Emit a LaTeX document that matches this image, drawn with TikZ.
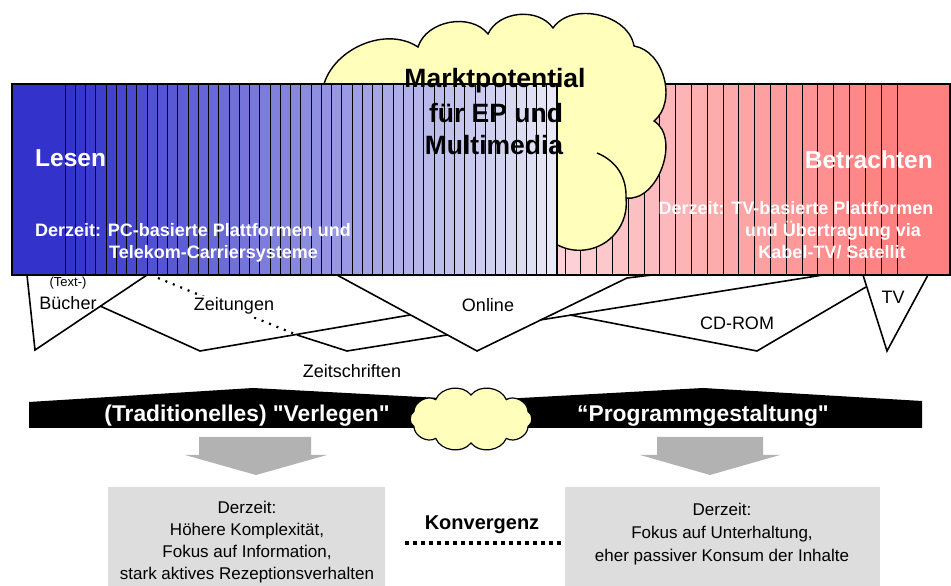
\documentclass[tikz,border=0pt]{standalone}
\usepackage{fontspec}
\setmainfont{Liberation Sans}[Ligatures=TeXOff]
\begin{document}
\begin{tikzpicture}[x=1pt,y=1pt,
  bar/.style={draw=black, line width=1pt},
  frame/.style={draw=black, line width=1.6pt},
  seg/.style={draw=black, line width=1.6pt, line join=miter},
  cloudfill/.style={fill=cloudy, draw=black, line width=1.4pt},
  whitetxt/.style={text=white, font=\bfseries\fontsize{18}{21}\selectfont, inner sep=0pt, anchor=base},
  bigwhite/.style={text=white, font=\bfseries\fontsize{24.5}{28}\selectfont, inner sep=0pt, anchor=base},
  lbl/.style={font=\fontsize{18}{21}\selectfont, inner sep=0pt, anchor=base},
  bandtxt/.style={text=white, font=\bfseries\fontsize{22.8}{26}\selectfont, inner sep=0pt, anchor=base},
  boxtxt/.style={font=\fontsize{17}{20}\selectfont, inner sep=0pt, anchor=base},
  grayarrow/.style={fill=arrowgray, draw=none},
  graybox/.style={fill=boxgray, draw=none}]
\definecolor{cloudy}{RGB}{255,255,187}
\definecolor{arrowgray}{RGB}{178,178,178}
\definecolor{boxgray}{RGB}{221,221,221}
\definecolor{readblue}{RGB}{51,51,204}
\definecolor{watchred}{RGB}{255,128,128}
\definecolor{palepink}{RGB}{252,210,214}
\useasboundingbox (0,0) rectangle (951,586);

% ---- right half of the band: "Betrachten" (red stripes, behind the cloud)
\fill[palepink, bar] (557,311) rectangle (565,502);
\foreach \k in {0,...,20}{
  \pgfmathsetmacro{\xa}{565+\k*15.81}
  \pgfmathsetmacro{\xb}{\xa+15.81}
  \pgfmathtruncatemacro{\rr}{252+3*\k/20}
  \pgfmathtruncatemacro{\gg}{208-80*\k/20}
  \pgfmathtruncatemacro{\bb}{212-84*\k/20}
  \definecolor{stripe}{RGB}{\rr,\gg,\bb}
  \fill[stripe, bar] (\xa,311) rectangle (\xb,502);
}
\fill[watchred, bar] (897,311) rectangle (950,502);
\draw[frame] (557,311) rectangle (950,502);

% ---- big cloud
\coordinate (c0) at (322,491);
\coordinate (c1) at (418,539);
\coordinate (c2) at (488,552);
\coordinate (c3) at (553,558);
\coordinate (c4) at (634,540);
\coordinate (c5) at (654,465);
\coordinate (c6) at (626,388);
\path[cloudfill] (c0) to[bend left=60] (c1) to[bend left=62] (c2)
  to[bend left=60] (c3) to[bend left=68] (c4) to[bend left=66] (c5)
  to[bend left=78] (c6) arc[start angle=6.5, end angle=-150, radius=47]
  -- cycle;
\draw[black, line width=1.4pt] (c6) to[bend right=35] (597,433);

% ---- left half of the band: "Lesen" (blue stripes, over the cloud)
\fill[readblue, bar] (12,311) rectangle (65,502);
\foreach \i in {0,...,47}{
  \pgfmathsetmacro{\xa}{65+\i*10.25}
  \pgfmathsetmacro{\xb}{\xa+10.25}
  \pgfmathtruncatemacro{\rr}{51+181*\i/47}
  \pgfmathtruncatemacro{\bb}{204+42*\i/47}
  \definecolor{stripe}{RGB}{\rr,\rr,\bb}
  \fill[stripe, bar] (\xa,311) rectangle (\xb,502);
}
\draw[frame] (12,311) rectangle (557,502);

% ---- texts on the band
\node[font=\bfseries\fontsize{26.5}{30}\selectfont, inner sep=0pt, anchor=base] (mp1) at (495,498) {Marktpotential};
\node[font=\bfseries\fontsize{26.5}{30}\selectfont, inner sep=0pt, anchor=base] (mp2) at (496,463) {für EP und};
\node[font=\bfseries\fontsize{26.5}{30}\selectfont, inner sep=0pt, anchor=base] (mp3) at (494,431) {Multimedia};

\node[bigwhite, anchor=base west] (lesen) at (35,419) {Lesen};
\node[whitetxt, anchor=base west] (pc1) at (35,349) {Derzeit: PC-basierte Plattformen und};
\node[whitetxt, anchor=base west] (pc2) at (109,327) {Telekom-Carriersysteme};

\node[bigwhite, anchor=base east] (betr) at (933,417) {Betrachten};
\node[whitetxt] (tv1) at (796,371) {Derzeit: TV-basierte Plattformen};
\node[whitetxt] (tv2) at (833,349) {und Übertragung via};
\node[whitetxt] (tv3) at (832,327) {Kabel-TV/ Satellit};

% ---- media segments below the band
\coordinate (bk) at (100,280);
\coordinate (zs) at (297,251);
\coordinate (onl) at (410,271);
\coordinate (onr) at (447,251);
\coordinate (cdl) at (540,266);
\coordinate (cdm) at (570,271);
\coordinate (tvl) at (866,299);
\draw[seg] (27,311) -- (35,236) -- (147,311);
\draw[seg] (bk) -- (200,235) -- (onl);
\draw[seg] (zs) -- (347,235) -- (onr);
\draw[seg] (337,311) -- (477,235) -- (627,308) -- (652,311);
\draw[seg] (cdl) -- (823,311);
\draw[seg] (cdm) -- (757,235) -- (tvl);
\draw[seg] (863,311) -- (887,235) -- (928,311);
\draw[black, line width=2.2pt, dash pattern=on 2pt off 6pt] (158,308) -- (zs);

\node[font=\fontsize{13}{15}\selectfont, inner sep=0pt, anchor=base] (textm) at (68,299) {(Text-)};
\node[lbl] (buch) at (68,276) {Bücher};
\node[lbl, fill=white, inner sep=2pt] (ztg) at (234,275) {Zeitungen};
\node[lbl] (online) at (488,274) {Online};
\node[lbl] (zschr) at (352,208) {Zeitschriften};
\node[lbl] (cdrom) at (737,256) {CD-ROM};
\node[lbl] (tv) at (893,282) {TV};

% ---- black ribbons with the small cloud between them
\fill[black] (29,158) -- (29,184) -- (253,198) -- (477,186) -- (477,158) -- cycle;
\fill[black] (484,158) -- (484,186) -- (703,198) -- (922,185) -- (922,158) -- cycle;
\node[bandtxt] (verl) at (247,164) {(Traditionelles) "Verlegen"};
\node[bandtxt] (prog) at (703,164) {“Programmgestaltung"};

\path[cloudfill, line width=1.2pt] (471,191) to[bend left=60] (506.3,186.4)
  to[bend left=60] (528.1,174.4) to[bend left=60] (528.1,159.6)
  to[bend left=60] (506.3,147.6) to[bend left=60] (471,143)
  to[bend left=60] (435.7,147.6) to[bend left=60] (413.9,159.6)
  to[bend left=60] (413.9,174.4) to[bend left=60] (435.7,186.4)
  to[bend left=60] cycle;

% ---- gray arrows
\path[grayarrow] (199,149) -- (311,149) -- (311,131) -- (327,131) -- (256,111)
  -- (185,131) -- (199,131) -- cycle;
\path[grayarrow] (657,149) -- (763,149) -- (763,131) -- (780,131) -- (710,111)
  -- (640,131) -- (657,131) -- cycle;

% ---- result boxes
\path[graybox] (108,0) rectangle (385,99);
\path[graybox] (565,0) rectangle (880,99);
\node[boxtxt] (l1) at (247,72) {Derzeit:};
\node[boxtxt] (l2) at (247,50) {Höhere Komplexität,};
\node[boxtxt] (l3) at (247,28) {Fokus auf Information,};
\node[boxtxt] (l4) at (247,6) {stark aktives Rezeptionsverhalten};
\node[boxtxt] (r1) at (722,70) {Derzeit:};
\node[boxtxt] (r2) at (722,47) {Fokus auf Unterhaltung,};
\node[boxtxt] (r3) at (722,24) {eher passiver Konsum der Inhalte};

\node[font=\bfseries\fontsize{20}{24}\selectfont, inner sep=0pt, anchor=base] (konv) at (482,56) {Konvergenz};
\coordinate (kl) at (405,43);
\coordinate (kr) at (562,43);
\draw[black, line width=4.5pt, dash pattern=on 4pt off 4pt] (kl) -- (kr);
\end{tikzpicture}
\end{document}
